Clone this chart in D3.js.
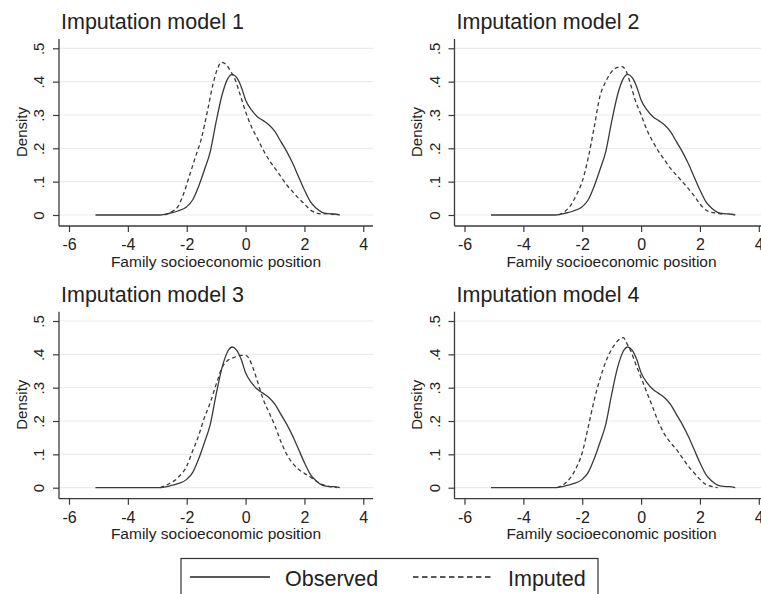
<!DOCTYPE html>
<html>
<head>
<meta charset="utf-8">
<script src="https://cdn.jsdelivr.net/npm/d3@7"></script>
<style>
  html, body { margin: 0; padding: 0; background: #fff; }
  svg { display: block; }
  text { font-family: "Liberation Sans", Arial, sans-serif; fill: #222; }
</style>
</head>
<body>
<div id="chart"></div>
<script>
// ---- data ----
const panelTitles = ["Imputation model 1", "Imputation model 2", "Imputation model 3", "Imputation model 4"];
const xTicks = [-6, -4, -2, 0, 2, 4];
const xTickLabels = ["-6", "-4", "-2", "0", "2", "4"];
const yTicks = [0, 0.1, 0.2, 0.3, 0.4, 0.5];
const yTickLabels = ["0", ".1", ".2", ".3", ".4", ".5"];
const xLabel = "Family socioeconomic position";
const yLabel = "Density";
const seriesNames = ["Observed", "Imputed"];

const observed = [[-5.1,0],[-2.9,0],[-2.6,0.005],[-2.3,0.012],[-2.0,0.025],[-1.8,0.045],[-1.6,0.085],[-1.4,0.135],[-1.2,0.19],[-1.0,0.28],[-0.8,0.36],[-0.6,0.41],[-0.45,0.422],[-0.3,0.412],[-0.15,0.385],[0.0,0.345],[0.2,0.315],[0.4,0.295],[0.6,0.283],[0.8,0.27],[1.0,0.25],[1.2,0.22],[1.4,0.19],[1.6,0.155],[1.8,0.115],[2.0,0.075],[2.2,0.04],[2.4,0.02],[2.6,0.008],[2.8,0.004],[3.0,0.003],[3.2,0]];

const imputed1 = [[-2.75,0],[-2.5,0.01],[-2.3,0.025],[-2.1,0.065],[-1.9,0.12],[-1.7,0.175],[-1.5,0.23],[-1.3,0.31],[-1.1,0.395],[-0.95,0.44],[-0.82,0.458],[-0.65,0.45],[-0.5,0.43],[-0.35,0.405],[-0.2,0.365],[0,0.31],[0.2,0.265],[0.4,0.23],[0.6,0.195],[0.8,0.165],[1.0,0.14],[1.2,0.115],[1.4,0.09],[1.6,0.07],[1.8,0.05],[2.0,0.033],[2.2,0.015],[2.4,0.006],[2.6,0.003],[2.8,0.004],[3.0,0.001]];
const imputed2 = [[-2.8,0],[-2.6,0.01],[-2.4,0.028],[-2.2,0.06],[-2.0,0.1],[-1.8,0.17],[-1.6,0.26],[-1.4,0.355],[-1.2,0.4],[-1.0,0.43],[-0.8,0.443],[-0.65,0.445],[-0.5,0.43],[-0.35,0.39],[-0.2,0.345],[0,0.3],[0.2,0.255],[0.4,0.22],[0.6,0.19],[0.8,0.165],[1.0,0.14],[1.2,0.12],[1.4,0.1],[1.6,0.08],[1.8,0.058],[2.0,0.033],[2.2,0.015],[2.4,0.008],[2.6,0.005],[2.8,0.002]];
const imputed3 = [[-2.9,0],[-2.6,0.012],[-2.3,0.03],[-2.0,0.065],[-1.8,0.11],[-1.6,0.155],[-1.4,0.21],[-1.2,0.255],[-1.0,0.31],[-0.8,0.36],[-0.6,0.382],[-0.4,0.39],[-0.2,0.397],[0,0.397],[0.1,0.39],[0.25,0.36],[0.4,0.32],[0.6,0.265],[0.8,0.225],[1.0,0.185],[1.2,0.138],[1.4,0.1],[1.6,0.073],[1.8,0.055],[2.0,0.043],[2.2,0.032],[2.4,0.02],[2.6,0.01],[2.8,0.004],[3.0,0.002],[3.1,0]];
const imputed4 = [[-2.85,0],[-2.6,0.012],[-2.4,0.03],[-2.2,0.06],[-2.0,0.105],[-1.8,0.18],[-1.6,0.26],[-1.4,0.325],[-1.2,0.378],[-1.0,0.415],[-0.8,0.44],[-0.6,0.45],[-0.5,0.435],[-0.35,0.41],[-0.2,0.375],[0,0.33],[0.2,0.285],[0.4,0.24],[0.6,0.195],[0.8,0.16],[1.0,0.135],[1.2,0.115],[1.4,0.09],[1.6,0.065],[1.8,0.045],[2.0,0.025],[2.2,0.01],[2.4,0.004],[2.6,0.0]];
const imputedSets = [imputed1, imputed2, imputed3, imputed4];

// ---- layout ----
const W = 761, H = 594;
const svg = d3.select("#chart").append("svg").attr("width", W).attr("height", H);

const panelOffsets = [[0,0],[395.5,0],[0,272.7],[395.5,272.7]];
const plotLeft = 59, plotRight = 373, axisY = 226, axisTop = 39;
const lineColor = "#3a3a3a";

const x = d3.scaleLinear().domain([-6, 4]).range([69, 363.3]);
const y = d3.scaleLinear().domain([0, 0.5]).range([215, 48.3]);

const line = d3.line().x(d => x(d[0])).y(d => y(d[1])).curve(d3.curveMonotoneX);

panelTitles.forEach((title, i) => {
  const [dx, dy] = panelOffsets[i];
  const g = svg.append("g").attr("transform", `translate(${dx},${dy})`);

  // gridlines
  g.selectAll("line.grid").data(yTicks).join("line")
    .attr("class", "grid")
    .attr("x1", plotLeft).attr("x2", plotRight)
    .attr("y1", d => y(d)).attr("y2", d => y(d))
    .attr("stroke", "#ebebeb").attr("stroke-width", 1.2);

  // y axis
  const yAxis = d3.axisLeft(y).tickValues(yTicks).tickFormat((d, k) => yTickLabels[k]).tickSize(6).tickPadding(3);
  const ya = g.append("g").attr("transform", `translate(${plotLeft},0)`).call(yAxis);
  ya.select(".domain").remove();
  ya.selectAll(".tick line").attr("stroke", lineColor).attr("stroke-width", 1.2);
  ya.selectAll(".tick text")
    .attr("x", null).attr("dy", null)
    .attr("text-anchor", "middle")
    .attr("transform", "translate(-15,0) rotate(-90)")
    .attr("y", 0)
    .style("font-size", "15px").style("font-family", "'Liberation Sans', Arial, sans-serif").attr("fill", "#222");
  g.append("line").attr("x1", plotLeft).attr("x2", plotLeft).attr("y1", axisTop).attr("y2", axisY)
    .attr("stroke", lineColor).attr("stroke-width", 1.3);

  // x axis
  const xAxis = d3.axisBottom(x).tickValues(xTicks).tickFormat((d, k) => xTickLabels[k]).tickSize(6).tickPadding(3);
  const xa = g.append("g").attr("transform", `translate(0,${axisY})`).call(xAxis);
  xa.select(".domain").remove();
  xa.selectAll(".tick line").attr("stroke", lineColor).attr("stroke-width", 1.2);
  xa.selectAll(".tick text").attr("y", 24).attr("dy", null)
    .style("font-size", "16px").style("font-family", "'Liberation Sans', Arial, sans-serif").attr("fill", "#222");
  g.append("line").attr("x1", plotLeft).attr("x2", plotRight).attr("y1", axisY).attr("y2", axisY)
    .attr("stroke", lineColor).attr("stroke-width", 1.3);

  // axis titles
  g.append("text").attr("x", (plotLeft + plotRight) / 2).attr("y", 266.5)
    .attr("text-anchor", "middle").style("font-size", "15.5px").text(xLabel);
  g.append("text").attr("transform", `translate(26.5,${132}) rotate(-90)`)
    .attr("text-anchor", "middle").style("font-size", "15px").text(yLabel);

  // panel title
  g.append("text").attr("x", 61).attr("y", 29.3).style("font-size", "21.5px").text(title);

  // curves
  g.append("path").datum(observed).attr("d", line)
    .attr("fill", "none").attr("stroke", lineColor).attr("stroke-width", 1.3);
  g.append("path").datum(imputedSets[i]).attr("d", line)
    .attr("fill", "none").attr("stroke", lineColor).attr("stroke-width", 1.3)
    .attr("stroke-dasharray", "4,3");
});

// ---- legend ----
const lg = svg.append("g");
lg.append("rect").attr("x", 181).attr("y", 558.5).attr("width", 417).attr("height", 50)
  .attr("fill", "#fff").attr("stroke", "#333").attr("stroke-width", 1.2);
const legendItems = [
  { name: seriesNames[0], x1: 190, x2: 270, tx: 285, dash: null },
  { name: seriesNames[1], x1: 413, x2: 493, tx: 508, dash: "5.5,3.5" }
];
legendItems.forEach(it => {
  lg.append("line").attr("x1", it.x1).attr("x2", it.x2).attr("y1", 577).attr("y2", 577)
    .attr("stroke", "#222").attr("stroke-width", 1.5)
    .attr("stroke-dasharray", it.dash);
  lg.append("text").attr("x", it.tx).attr("y", 586).style("font-size", "21.5px").text(it.name);
});
</script>
</body>
</html>
